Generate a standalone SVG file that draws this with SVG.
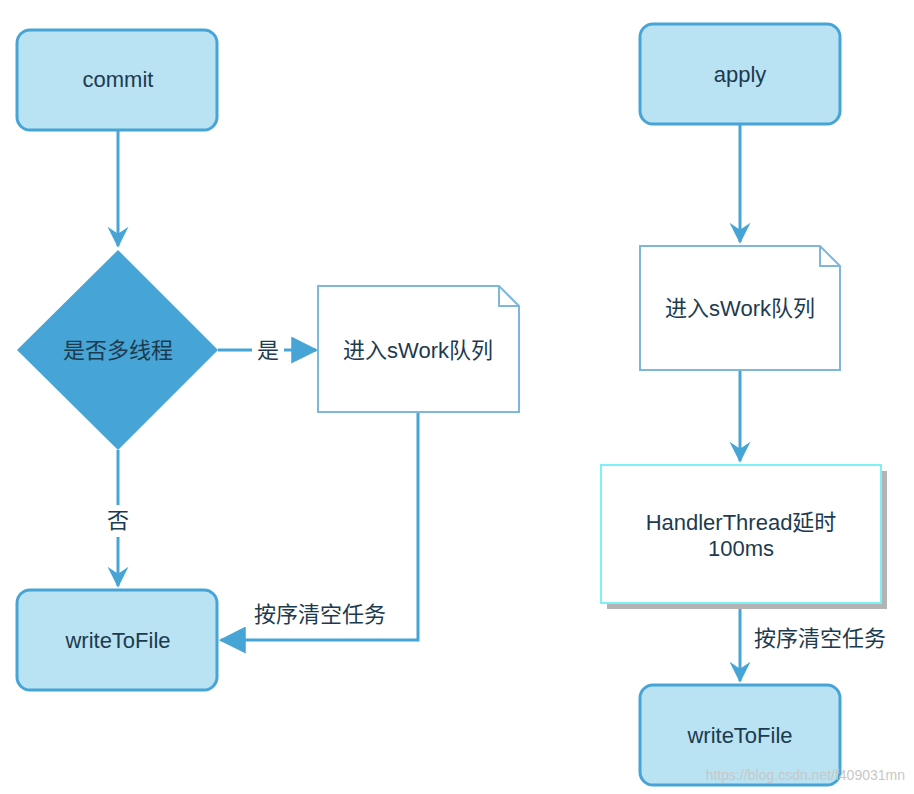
<svg xmlns="http://www.w3.org/2000/svg" width="914" height="794" viewBox="0 0 914 794">
<style>
.box{fill:#b9e2f2;stroke:#47a4d6;stroke-width:3}
.doc{fill:#fff;stroke:#7fb7dc;stroke-width:2}
.t{font-family:"Liberation Sans","Noto Sans CJK SC",sans-serif;font-size:22px;fill:#1d3b4f;text-anchor:middle}
.e{fill:none;stroke:#47a4d6;stroke-width:3}
</style>
<defs>
<marker id="a" viewBox="0 0 12 12" refX="11" refY="6" markerWidth="7" markerHeight="7" markerUnits="strokeWidth" orient="auto">
<path d="M0,0 L12,6 L0,12 L4,6 z" fill="#47a4d6"/>
</marker>
<marker id="b" viewBox="0 0 12 12" refX="11" refY="6" markerWidth="9" markerHeight="9" markerUnits="strokeWidth" orient="auto">
<path d="M0,0 L12,6 L0,12 z" fill="#47a4d6"/>
</marker>
</defs>
<rect width="914" height="794" fill="#fff"/>
<g id="edges">
<path class="e" d="M118,130 V246" marker-end="url(#a)"/>
<path class="e" d="M218,350 H252"/>
<path class="e" d="M284,350 H316" marker-end="url(#b)"/>
<text class="t" x="268" y="358">是</text>
<path class="e" d="M118,450 V505"/>
<path class="e" d="M118,537 V586" marker-end="url(#a)"/>
<text class="t" x="118" y="528">否</text>
<path class="e" d="M418,412 V640 H221" marker-end="url(#b)"/>
<text class="t" x="320" y="622">按序清空任务</text>
<path class="e" d="M740,124 V242" marker-end="url(#a)"/>
<path class="e" d="M740,370 V461" marker-end="url(#a)"/>
<path class="e" d="M740,603 V681" marker-end="url(#a)"/>
<text class="t" x="820" y="646">按序清空任务</text>
</g>
<g id="commit"><rect class="box" x="17" y="30" width="200" height="100" rx="13"/><text class="t" x="118" y="87">commit</text></g>
<g id="decision"><path d="M118,250 L218,350 L118,450 L17,350 z" fill="#47a4d6"/><text class="t" x="118" y="358">是否多线程</text></g>
<g id="queue1"><path class="doc" d="M318,286 H499 L519,306 V412 H318 z M499,286 V306 H519"/><text class="t" x="418" y="358">进入sWork队列</text></g>
<g id="write1"><rect class="box" x="17" y="590" width="200" height="100" rx="13"/><text class="t" x="118" y="648">writeToFile</text></g>
<g id="apply"><rect class="box" x="640" y="24" width="200" height="100" rx="13"/><text class="t" x="740" y="82">apply</text></g>
<g id="queue2"><path class="doc" d="M640,246 H820 L840,266 V370 H640 z M820,246 V266 H840"/><text class="t" x="740" y="316">进入sWork队列</text></g>
<g id="handler"><rect x="607" y="471" width="280" height="138" fill="#b3b3b3"/><rect x="601" y="465" width="280" height="138" fill="#fff" stroke="#7ff0f8" stroke-width="2"/><text class="t" x="741" y="530">HandlerThread延时</text><text class="t" x="741" y="556">100ms</text></g>
<g id="write2"><rect class="box" x="640" y="685" width="200" height="100" rx="13"/><text class="t" x="740" y="743">writeToFile</text></g>
<text x="905" y="780" font-family="Liberation Sans,sans-serif" font-size="14" fill="#c8c8c8" text-anchor="end">https://blog.csdn.net/f409031mn</text>
</svg>
